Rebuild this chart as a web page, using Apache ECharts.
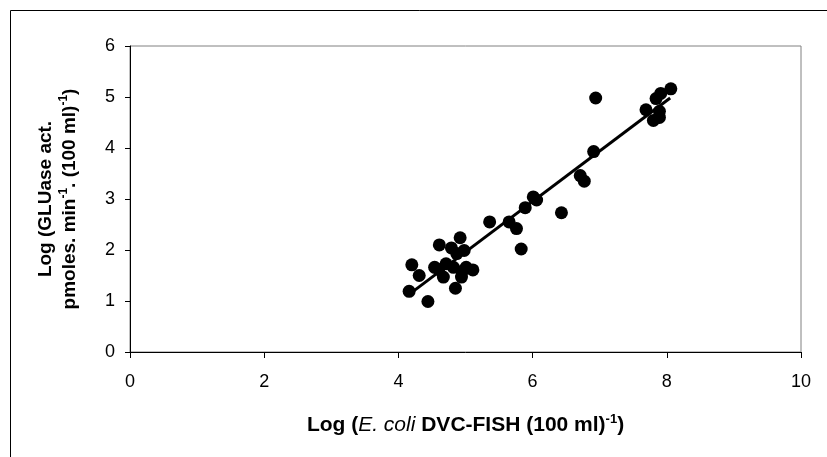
<!DOCTYPE html>
<html>
<head>
    <meta charset="utf-8">
    <title>GLUase vs DVC-FISH</title>
    <script src="https://cdn.jsdelivr.net/npm/echarts@6/dist/echarts.min.js"></script>
    <style>
        html, body {margin: 0; padding: 0; background: #fff;}
        #main {width: 827px; height: 457px;}
    </style>
</head>
<body>
<div id="main"></div>
<script type="text/javascript">
    // Log E. coli DVC-FISH (x) vs Log GLUase activity (y)
    var xVals = [4.16, 4.20, 4.31, 4.44, 4.54, 4.61, 4.67, 4.71, 4.79, 4.85, 4.87, 4.92, 4.95, 4.94, 4.98, 5.01, 5.11, 4.82, 4.60,
                 5.36, 5.65, 5.76, 5.83, 5.89, 6.01, 6.06, 6.43, 6.71, 6.77, 6.91, 6.94, 7.69, 7.80, 7.84, 7.91, 7.89, 7.89, 8.06];
    var yVals = [1.19, 1.71, 1.50, 0.99, 1.66, 2.10, 1.47, 1.73, 2.04, 1.25, 1.93, 2.24, 1.58, 1.47, 1.99, 1.66, 1.61, 1.66, 1.62,
                 2.55, 2.55, 2.42, 2.02, 2.83, 3.04, 2.98, 2.73, 3.46, 3.35, 3.93, 4.98, 4.75, 4.54, 4.97, 5.07, 4.72, 4.60, 5.16];
    // regression line end points
    var fitX = [4.15, 8.05];
    var fitY = [1.12, 4.98];
    var xTicks = [0, 2, 4, 6, 8, 10];
    var yTicks = [0, 1, 2, 3, 4, 5, 6];

    var points = [];
    for (var i = 0; i < xVals.length; i++) {
        points.push([xVals[i], yVals[i]]);
    }
    var fitLine = [];
    for (var j = 0; j < fitX.length; j++) {
        fitLine.push([fitX[j], fitY[j]]);
    }

    var myChart = echarts.init(document.getElementById('main'));
    var option = {
        animation: false,
        backgroundColor: '#fff',
        textStyle: {fontFamily: 'Arial'},
        graphic: [{
            type: 'rect',
            shape: {x: 10.5, y: 10.5, width: 900, height: 700},
            style: {fill: 'none', stroke: '#000', lineWidth: 1},
            silent: true
        }],
        grid: {
            left: 130, right: 26, top: 46, bottom: 105,
            show: true,
            borderColor: '#808080',
            borderWidth: 1
        },
        xAxis: {
            type: 'value',
            min: xTicks[0], max: xTicks[xTicks.length - 1], interval: 2,
            axisLine: {show: true, onZero: false, lineStyle: {color: '#000', width: 1}},
            axisTick: {show: true, length: 6, lineStyle: {color: '#000'}},
            splitLine: {show: false},
            axisLabel: {color: '#000', fontSize: 18, margin: 21},
            name: '{b|Log (}{i|E. coli}{b| DVC-FISH (100 ml)}{s|-1}{b|)}',
            nameLocation: 'middle',
            nameGap: 61,
            nameTextStyle: {
                rich: {
                    b: {fontSize: 21, fontWeight: 'bold', color: '#000', fontFamily: 'Arial'},
                    i: {fontSize: 21, fontStyle: 'italic', color: '#000', fontFamily: 'Arial'},
                    s: {fontSize: 13, fontWeight: 'bold', color: '#000', fontFamily: 'Arial', padding: [0, 0, 12, 0]}
                }
            }
        },
        yAxis: {
            type: 'value',
            min: yTicks[0], max: yTicks[yTicks.length - 1], interval: 1,
            axisLine: {show: true, onZero: false, lineStyle: {color: '#000', width: 1}},
            axisTick: {show: true, length: 5, lineStyle: {color: '#000'}},
            splitLine: {show: false},
            axisLabel: {color: '#000', fontSize: 18, margin: 15},
            name: '{b|Log (GLUase act.}\n{b|pmoles. min}{s|-1}{b|. (100 ml)}{s|-1}{b|)}',
            nameLocation: 'middle',
            nameRotate: 90,
            nameGap: 48,
            nameTextStyle: {
                align: 'center',
                lineHeight: 24,
                rich: {
                    b: {fontSize: 19, fontWeight: 'bold', color: '#000', fontFamily: 'Arial', lineHeight: 24},
                    s: {fontSize: 12, fontWeight: 'bold', color: '#000', fontFamily: 'Arial', lineHeight: 24, padding: [0, 0, 12, 0]}
                }
            }
        },
        series: [
            {
                name: 'data',
                type: 'scatter',
                data: points,
                symbol: 'circle',
                symbolSize: 13,
                itemStyle: {color: '#000', opacity: 1},
                z: 3
            },
            {
                name: 'fit',
                type: 'line',
                data: fitLine,
                showSymbol: false,
                symbol: 'none',
                lineStyle: {color: '#000', width: 3},
                z: 2
            }
        ]
    };
    myChart.setOption(option);
</script>
</body>
</html>
